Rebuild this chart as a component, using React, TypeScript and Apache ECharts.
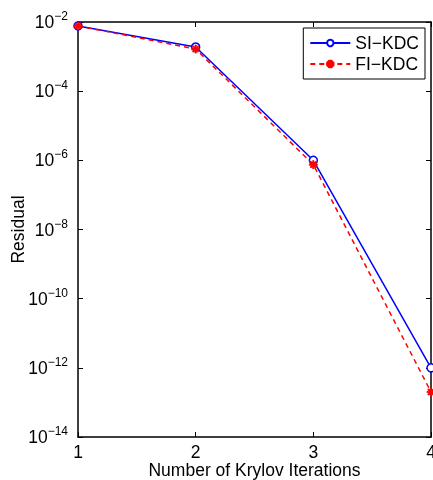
import React, { useEffect, useRef } from "react";
import * as echarts from "echarts";

const iterations = [1, 2, 3, 4];
const siKdc = [7.7e-3, 1.9e-3, 1.0e-6, 1.0e-12];
const fiKdc = [7.7e-3, 1.65e-3, 7.5e-7, 2.0e-13];
const seriesNames = ["SI\u2212KDC", "FI\u2212KDC"];

const FONT = "Liberation Sans, Arial, Helvetica, sans-serif";
const FS = 17.5;

export default function App() {
  const ref = useRef<HTMLDivElement>(null);
  useEffect(() => {
    if (!ref.current) return;
    const chart = echarts.init(ref.current, undefined, { renderer: "svg" });
    const yLabel = (v: number) => {
      const e = Math.round(Math.log10(v));
      const s = e < 0 ? "\u2212" + Math.abs(e) : String(e);
      return `{b|10}{s|${s}}`;
    };
    const axisLineStyle = { color: "#000", width: 1.5 };
    chart.setOption({
      animation: false,
      textStyle: { fontFamily: FONT },
      grid: { left: 78, right: 2, top: 22, bottom: 43, containLabel: false, outerBoundsMode: "none" },
      legend: {
        orient: "vertical",
        top: 28,
        right: 8,
        backgroundColor: "#fff",
        borderColor: "#000",
        borderWidth: 1,
        padding: [6, 6, 6, 6],
        itemGap: 3,
        itemWidth: 40,
        itemHeight: 8,
        textStyle: { fontSize: FS, color: "#000", fontFamily: FONT },
        data: seriesNames,
      },
      xAxis: [
        {
          type: "value",
          min: 1,
          max: 4,
          interval: 1,
          position: "bottom",
          name: "Number of Krylov Iterations",
          nameLocation: "middle",
          nameGap: 26,
          nameMoveOverlap: false,
          nameTextStyle: { fontSize: FS, color: "#000", fontFamily: FONT, lineHeight: 14 },
          axisLine: { lineStyle: axisLineStyle },
          axisTick: { inside: true, length: 5, lineStyle: { color: "#000" } },
          axisLabel: { fontSize: FS, color: "#000", margin: 8, fontFamily: FONT, lineHeight: 14 },
          splitLine: { show: false },
        },
        {
          type: "value",
          min: 1,
          max: 4,
          interval: 1,
          position: "top",
          axisLine: { lineStyle: axisLineStyle },
          axisTick: { inside: true, length: 5, lineStyle: { color: "#000" } },
          axisLabel: { show: false },
          splitLine: { show: false },
        },
      ],
      yAxis: [
        {
          type: "log",
          logBase: 10,
          min: 1e-14,
          max: 1e-2,
          interval: 2,
          position: "left",
          name: "Residual",
          nameLocation: "middle",
          nameGap: 51,
          nameMoveOverlap: false,
          nameTextStyle: { fontSize: FS, color: "#000", fontFamily: FONT },
          axisLine: { show: true, lineStyle: axisLineStyle },
          axisTick: { show: true, inside: true, length: 5, lineStyle: { color: "#000" } },
          minorTick: { show: false },
          splitLine: { show: false },
          axisLabel: {
            formatter: yLabel,
            margin: 10,
            rich: {
              b: { fontSize: FS, color: "#000", fontFamily: FONT, lineHeight: 24 },
              s: { fontSize: 12, color: "#000", fontFamily: FONT, verticalAlign: "top", lineHeight: 12 },
            },
          },
        },
        {
          type: "log",
          logBase: 10,
          min: 1e-14,
          max: 1e-2,
          interval: 2,
          position: "right",
          axisLine: { show: true, lineStyle: axisLineStyle },
          axisTick: { show: true, inside: true, length: 5, lineStyle: { color: "#000" } },
          minorTick: { show: false },
          splitLine: { show: false },
          axisLabel: { show: false },
        },
      ],
      series: [
        {
          name: seriesNames[0],
          type: "line",
          data: iterations.map((x, i) => [x, siKdc[i]]),
          symbol: "circle",
          symbolSize: 8,
          showAllSymbol: true,
          lineStyle: { color: "#0000ff", width: 1.5 },
          itemStyle: { color: "#fff", borderColor: "#0000ff", borderWidth: 1.5 },
          z: 3,
        },
        {
          name: seriesNames[1],
          type: "line",
          data: iterations.map((x, i) => [x, fiKdc[i]]),
          symbol: "path://M-0.7,-4h1.4v8h-1.4zM-4,-0.7h8v1.4h-8zM-3.3,-2.3l1-1l5.6,5.6l-1,1zM2.3,-3.3l1,1l-5.6,5.6l-1,-1z",
          symbolSize: 8,
          lineStyle: { color: "#ff0000", width: 1.5, type: [5, 4] },
          itemStyle: { color: "#ff0000", borderColor: "#ff0000", borderWidth: 0.8 },
          z: 4,
        },
      ],
    });
    return () => chart.dispose();
  }, []);
  return <div ref={ref} style={{ width: 433, height: 480, position: "fixed", left: 0, top: 0 }} />;
}
